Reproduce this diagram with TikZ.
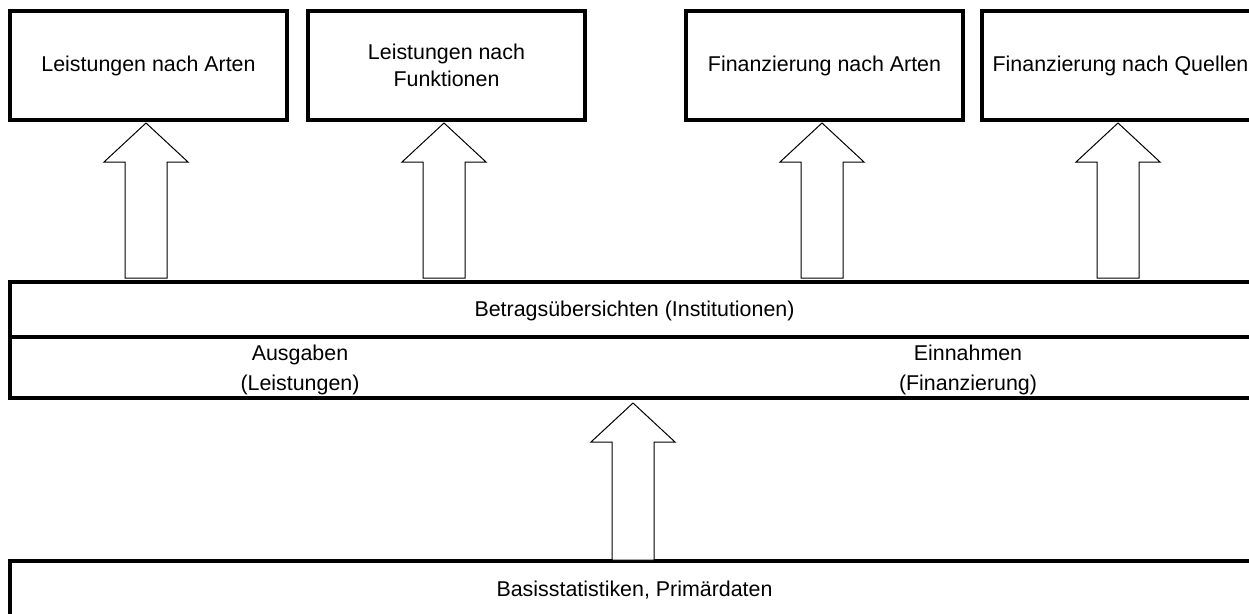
\documentclass[tikz,border=0pt]{standalone}
\usepackage{fontspec}
\setmainfont{Liberation Sans}
\usepackage{tikz}
\usetikzlibrary{positioning}
\usetikzlibrary{calc}

\tikzset{
  box/.style={draw, rectangle, line width=3.5pt, minimum width=277pt, minimum height=109pt,
    inner sep=0pt, outer sep=0pt, align=center, font=\fontsize{21.4}{27}\selectfont},
  band/.style={draw, rectangle, line width=3.5pt, minimum width=1249pt, inner sep=0pt,
    outer sep=0pt, font=\fontsize{21.4}{30}\selectfont},
  celltext/.style={align=center, inner sep=0pt, font=\fontsize{21.4}{30}\selectfont},
  fatline/.style={draw, fill=white, line width=1pt, line join=miter}
}

% hohler Blockpfeil: Fuss #1, Spitze #2
\newcommand{\fatarrow}[2]{%
  \path[fatline] let \p1=#1, \p2=#2 in
    (\x1-21pt,\y1) -- (\x1-21pt,\y2-39pt) -- (\x1-42pt,\y2-39pt) -- (\x1,\y2)
    -- (\x1+42pt,\y2-39pt) -- (\x1+21pt,\y2-39pt) -- (\x1+21pt,\y1) -- cycle;}

\begin{document}
\begin{tikzpicture}[x=1pt, y=1pt]
    \useasboundingbox (0,0) rectangle (1249,-613);
    \clip (0,0) rectangle (1249,-613);

    % obere Reihe
    \node [box, anchor=north west] (arten) at (10,-11) {Leistungen nach Arten};
    \node [box, right=21pt of arten] (funkt) {Leistungen nach\\Funktionen};
    \node [box, right=101pt of funkt] (finart) {Finanzierung nach Arten};
    \node [box, right=19pt of finart] (quellen) {Finanzierung nach Quellen};

    % Betragsuebersichten
    \node [band, minimum height=116pt, anchor=north west] (mid) at (10,-282) {};
    \draw [line width=3.5pt] (mid.west |- 0,-337) -- (mid.east |- 0,-337);
    \node [celltext] (titel) at ($(mid.north)+(0,-29)$) {Betragsübersichten (Institutionen)};
    \node [celltext] (ausg) at (300,-370) {Ausgaben\\(Leistungen)};
    \node [celltext] (einn) at (968,-370) {Einnahmen\\(Finanzierung)};

    % Basis
    \node [band, minimum height=59pt, below=163pt of mid.south west, anchor=north west] (basis)
        {Basisstatistiken, Primärdaten};

    \fatarrow{($(arten.south |- mid.north)+(-2.5,4)$)}{($(arten.south)+(-2.5,-3)$)}
    \fatarrow{($(funkt.south |- mid.north)+(-2.5,4)$)}{($(funkt.south)+(-2.5,-3)$)}
    \fatarrow{($(finart.south |- mid.north)+(-2.5,4)$)}{($(finart.south)+(-2.5,-3)$)}
    \fatarrow{($(quellen.south |- mid.north)+(-2.5,4)$)}{($(quellen.south)+(-2.5,-3)$)}
    \fatarrow{($(mid.south |- basis.north)+(-1.5,1)$)}{($(mid.south)+(-1.5,-5)$)}
\end{tikzpicture}
\end{document}
